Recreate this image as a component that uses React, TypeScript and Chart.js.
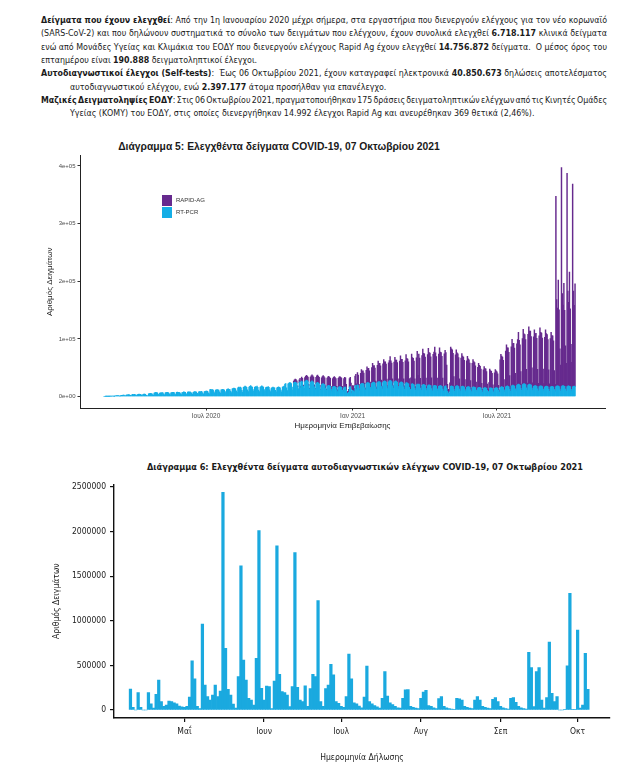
import React, { useEffect, useLayoutEffect, useRef } from "react";
import { Chart, registerables } from "chart.js";
Chart.register(...registerables);

// ================= Διάγραμμα 5 : daily tests (thousands) =================
// day 0 = Mon 2020-02-24, one row per week (Mon..Sun)
const pcrStartDate = "2020-02-24";
const pcrDailyK = [
  0, 0, 0.1, 0.2, 0.3, 0.2, 0.1,
  0.4, 0.5, 0.6, 0.8, 0.9, 0.6, 0.4,
  1.1, 1.3, 1.5, 1.8, 1.6, 1.2, 0.8,
  1.8, 2.1, 2, 2.4, 2.6, 1.7, 1.2,
  2.6, 3, 2.8, 3.3, 3.1, 2.1, 1.4,
  3.1, 3.6, 3.3, 3.9, 3.5, 2.4, 1.7,
  3.4, 3.8, 4.1, 3.9, 3.6, 2.6, 1.6,
  3.6, 4.2, 4.4, 3.7, 2.2, 1.6, 1.1,
  4.6, 5.1, 5.6, 5.3, 5, 3.4, 2.4,
  6.1, 6.8, 7.3, 6.9, 6.4, 4.1, 2.9,
  6.2, 6.6, 6.3, 6.9, 6.6, 4.4, 3,
  6.6, 7.1, 6.9, 7.3, 6.4, 4.6, 3.1,
  6.4, 7, 7.3, 7.1, 6.8, 4.5, 3.4,
  7.1, 7.6, 7.2, 7.5, 7, 5.1, 3.5,
  7, 7.4, 8.1, 7.8, 7.3, 5, 3.6,
  7.6, 8.2, 7.9, 8.3, 7.5, 5.4, 3.9,
  7.4, 8.1, 8.6, 8.2, 7.9, 5.6, 4.1,
  8.2, 8.6, 8.3, 8.9, 8.1, 5.9, 4.4,
  8.6, 9.1, 9.6, 9.4, 9, 6.4, 4.9,
  12.1, 12.6, 11.6, 12.2, 11.3, 8.1, 5.9,
  11.2, 11.7, 12.1, 11.6, 11, 8.2, 6.1,
  11.6, 12.2, 12.6, 12.1, 11.4, 8.4, 6.4,
  12.1, 12.8, 13.2, 12.6, 12.1, 8.9, 6.9,
  13.2, 14.1, 14.6, 14.2, 13.4, 9.8, 7.4,
  15.1, 16.2, 15.6, 16.6, 14.9, 10.9, 7.9,
  15.8, 16.9, 18.1, 17.2, 16.1, 11.8, 8.4,
  16.4, 17.6, 19.2, 17.1, 16.2, 12.1, 8.9,
  15.9, 17.1, 16.4, 18.2, 16.1, 11.4, 8.4,
  16.2, 17.3, 18.6, 17.1, 16.4, 11.9, 8.8,
  15.6, 16.4, 15.9, 17.2, 15.8, 11.6, 8.4,
  14.8, 15.6, 16.2, 15.4, 14.9, 10.9, 8.1,
  15.2, 16.1, 16.8, 15.9, 15.1, 11.2, 8.3,
  16.4, 17.2, 18.1, 21.6, 22.4, 15.2, 10.4,
  22.1, 23.4, 24.2, 23.8, 22.6, 16.4, 11.2,
  23.6, 24.8, 25.2, 24.4, 23.1, 17.1, 12.4,
  24.1, 25.6, 15.2, 26.8, 25.4, 17.8, 12.6,
  25.8, 27.2, 28.4, 27.6, 26.2, 18.4, 13.1,
  24.6, 26.1, 27.2, 25.8, 24.4, 16.9, 12.2,
  22.4, 23.8, 24.6, 23.2, 22.1, 15.6, 11.4,
  20.6, 21.8, 22.4, 21.2, 20.1, 14.2, 10.6,
  17.8, 19.1, 19.6, 18.4, 17.6, 12.4, 9.2,
  16.2, 17.4, 17.9, 16.8, 16.1, 11.6, 8.6,
  15.6, 16.8, 17.2, 16.4, 15.8, 11.2, 8.4,
  15.1, 16.2, 16.4, 11.2, 6.1, 5.2, 7.4,
  16.2, 17.1, 12.4, 5.6, 10.8, 9.6, 8.1,
  18.4, 19.6, 12.1, 20.4, 19.2, 14.1, 10.2,
  21.2, 22.6, 23.1, 22.4, 21.6, 15.4, 11.6,
  22.4, 23.6, 24.4, 23.8, 22.6, 16.1, 12.2,
  23.1, 24.4, 25.2, 24.6, 23.4, 16.8, 12.6,
  24.2, 25.6, 26.1, 25.4, 24.1, 17.4, 13.1,
  24.8, 26.2, 27.1, 26.4, 25.2, 18.1, 13.6,
  25.6, 27.4, 28.2, 27.1, 25.9, 18.6, 14.1,
  24.6, 26.2, 27.1, 26.2, 24.8, 17.9, 13.4,
  23.4, 24.8, 25.6, 24.6, 23.2, 16.8, 12.6,
  22.1, 23.6, 24.2, 23.1, 22.2, 16.1, 12.1,
  12.4, 21.6, 22.4, 21.2, 20.4, 14.8, 11.2,
  20.1, 21.4, 11.6, 21.8, 20.6, 14.6, 10.8,
  19.2, 20.4, 21.1, 20.2, 19.4, 14.1, 10.4,
  18.6, 19.8, 20.4, 19.6, 18.8, 13.6, 10.1,
  18.1, 19.2, 19.6, 18.8, 18.2, 13.2, 9.8,
  17.6, 18.6, 19.1, 18.4, 17.6, 12.8, 9.4,
  17.2, 18.1, 18.4, 14.6, 9.2, 6.4, 4.2,
  8.6, 17.8, 18.6, 17.9, 17.1, 12.6, 9.2,
  17.4, 18.2, 18.8, 18.1, 17.4, 12.8, 9.4,
  16.8, 17.6, 18.1, 17.4, 16.6, 12.2, 8.9,
  16.1, 16.9, 17.4, 16.8, 16.1, 11.8, 8.6,
  15.4, 16.2, 16.8, 16.1, 15.4, 11.2, 8.2,
  14.8, 15.6, 16.1, 15.4, 14.8, 10.8, 7.9,
  14.4, 15.1, 15.6, 15.1, 14.4, 10.6, 7.8,
  9.2, 14.6, 15.2, 14.6, 14.1, 10.4, 7.6,
  14.2, 14.8, 15.4, 14.9, 14.4, 10.6, 7.8,
  15.6, 16.4, 17.1, 16.6, 15.8, 11.6, 8.6,
  16.8, 17.8, 18.4, 17.6, 16.9, 12.4, 9.2,
  18.1, 19.2, 19.8, 19.1, 18.2, 13.4, 9.8,
  19.4, 20.6, 21.4, 20.6, 19.6, 14.4, 10.6,
  20.6, 21.8, 22.6, 21.6, 20.8, 15.2, 11.2,
  19.8, 20.9, 21.4, 20.6, 19.8, 14.6, 10.8,
  17.6, 18.6, 19.2, 18.6, 17.8, 13.2, 9.8,
  17.1, 18.1, 18.6, 18.1, 17.2, 12.8, 9.4,
  16.6, 17.6, 18.1, 17.6, 16.8, 12.4, 9.1,
  16.4, 17.4, 17.9, 17.4, 16.6, 12.2, 9,
  17.2, 18.1, 18.6, 18.1, 17.4, 12.8, 9.4,
  17.4, 18.4, 18.8, 18.2, 17.6, 12.9, 9.5,
  17.1, 18.1, 18.6, 17.9, 17.3, 12.7, 9.3,
  16.8, 17.8, 18.2, 17.6,
];

// Rapid-Ag starts on day 238 = Mon 2020-10-19
const rapidStartDay = 238;
const rapidDailyK = [
  3, 4, 5, 5, 4, 1.5, 1,
  5, 6, 3, 7, 6, 2, 1,
  7, 8, 8.5, 8, 7.5, 3, 1.5,
  9, 10, 10.5, 10, 9.5, 3.5, 2,
  11, 12, 12.5, 12, 11, 4, 2,
  12, 13, 14, 13.5, 12.5, 5, 2.5,
  14, 15, 15.5, 15, 14, 5.5, 3,
  15, 16, 16.5, 16, 15, 6, 3,
  16, 17, 17.5, 17, 16, 6.5, 3,
  16, 17, 16, 10, 3, 3, 5,
  15, 16, 11, 4, 8, 9, 6,
  17, 19, 10, 21, 18, 7, 3,
  19, 24, 21, 22, 19, 8, 3,
  23, 28, 24, 25, 22, 9, 4,
  27, 33, 28, 29, 26, 10, 4,
  30, 36, 31, 32, 29, 11, 5,
  32, 38, 33, 34, 31, 12, 5,
  33, 35, 41, 35, 32, 12, 5,
  35, 42, 36, 37, 34, 13, 5,
  38, 46, 39, 40, 36, 14, 6,
  40, 49, 42, 42, 38, 15, 6,
  20, 52, 45, 45, 41, 16, 6,
  47, 57, 25, 52, 46, 17, 7,
  52, 62, 54, 54, 49, 18, 7,
  54, 64, 56, 56, 50, 19, 8,
  55, 58, 66, 57, 51, 19, 8,
  56, 66, 58, 58, 52, 19, 8,
  57, 62, 58, 40, 12, 6, 2,
  15, 68, 64, 63, 58, 22, 9,
  55, 63, 57, 56, 50, 18, 7,
  50, 57, 52, 51, 46, 17, 7,
  46, 53, 48, 47, 42, 16, 6,
  42, 48, 44, 43, 38, 14, 6,
  36, 42, 38, 37, 33, 12, 5,
  32, 37, 33, 33, 29, 11, 5,
  15, 33, 30, 29, 26, 10, 4,
  27, 32, 29, 28, 25, 9, 4,
  48, 57, 53, 52, 47, 18, 7,
  62, 72, 66, 67, 60, 24, 9,
  68, 80, 72, 73, 66, 27, 10,
  72, 78, 90, 77, 70, 29, 11,
  80, 95, 86, 86, 78, 32, 12,
  88, 100, 92, 93, 84, 35, 13,
  86, 97, 90, 91, 83, 34, 13,
  88, 101, 93, 92, 84, 35, 13,
  86, 98, 91, 90, 82, 34, 13,
  84, 94, 88, 88, 80, 33, 12,
  330, 150, 135, 184, 133, 70, 45,
  380, 160, 140, 178, 132, 75, 48,
  370, 165, 145, 198, 135, 78, 50,
  352, 165, 140, 178,
];

const chart5TickDays = [128, 312, 493];
const chart5TickLabels = ["Ιουλ 2020", "Ιαν 2021", "Ιουλ 2021"];
const chart5YTicks = [0, 100000, 200000, 300000, 400000];
const chart5YTickLabels = ["0e+00", "1e+05", "2e+05", "3e+05", "4e+05"];
const chart5Series = ["RAPID-AG", "RT-PCR"];

// ================= Διάγραμμα 6 : self-tests (thousands) =================
// day 0 = 2021-04-10
const selfTestStartDate = "2021-04-10";
const selfTestsK = [
  235, 30, 0, 195, 30, 0, 0, 195, 70, 20,
  175, 336, 94, 40, 55, 100, 95, 80, 70, 45,
  35, 30, 40, 145, 550, 348, 40, 15, 964, 280,
  150, 112, 168, 280, 150, 213, 2440, 692, 232, 168,
  67, 20, 374, 1615, 560, 336, 130, 112, 56, 580,
  2010, 243, 112, 269, 262, 15, 325, 1840, 400, 205,
  195, 168, 37, 262, 1765, 255, 112, 94, 270, 40,
  240, 400, 374, 1225, 94, 40, 240, 280, 512, 393,
  94, 75, 40, 30, 150, 628, 348, 80, 70, 45,
  25, 145, 493, 94, 70, 50, 35, 20, 130, 430,
  157, 80, 60, 40, 25, 20, 130, 225, 230, 40,
  30, 20, 15, 130, 200, 220, 50, 40, 25, 15,
  127, 150, 40, 25, 15, 10, 5, 130, 125, 112,
  40, 30, 20, 15, 112, 150, 112, 40, 30, 20,
  15, 120, 140, 95, 40, 25, 15, 10, 130, 140,
  85, 40, 25, 15, 10, 646, 475, 37, 430, 475,
  112, 20, 138, 760, 187, 94, 150, 0, 0, 5,
  495, 1308, 7, 7, 897, 20, 56, 635, 232,
];
const chart6TickDays = [21, 52, 82, 113, 144, 174];
const chart6TickLabels = ["Μαΐ", "Ιουν", "Ιουλ", "Αυγ", "Σεπ", "Οκτ"];
const chart6YTicks = [0, 500000, 1000000, 1500000, 2000000, 2500000];
const chart6YTickLabels = ["0", "500000", "1000000", "1500000", "2000000", "2500000"];

// ================= styles =================
const PURPLE = "#662a8e";
const BLUE1 = "#14aee6";
const BLUE2 = "#1aa9df";
const F1 = "'Liberation Sans', Arial, Helvetica, sans-serif";
const F2 = "'DejaVu Sans Condensed', 'DejaVu Sans', sans-serif";

function Chart5() {
  const ref = useRef<HTMLCanvasElement>(null);
  useEffect(() => {
    const pcr = pcrDailyK.map((v, i) => ({ x: i, y: v * 1000 }));
    const rapid = rapidDailyK.map((v, i) => ({ x: rapidStartDay + i, y: v * 1000 }));
    const chart = new Chart(ref.current as HTMLCanvasElement, {
      type: "bar",
      data: {
        datasets: [
          { label: chart5Series[1], data: pcr as any, backgroundColor: BLUE1, borderWidth: 0, barPercentage: 1, categoryPercentage: 1 },
          { label: chart5Series[0], data: rapid as any, backgroundColor: PURPLE, borderWidth: 0, barPercentage: 1, categoryPercentage: 1 },
        ],
      },
      options: {
        animation: false,
        responsive: false,
        maintainAspectRatio: false,
        layout: { padding: { top: 25.6, right: 39, bottom: 0, left: 0 } },
        plugins: { legend: { display: false }, tooltip: { enabled: false } },
        scales: {
          x: {
            type: "linear",
            min: -30.1,
            max: 628.6,
            stacked: true,
            offset: false,
            grid: { display: true, drawOnChartArea: false, drawTicks: true, tickLength: 2.5, color: "#333", offset: false },
            border: { display: true, color: "#222", width: 1 },
            afterBuildTicks: (s: any) => { s.ticks = chart5TickDays.map((v) => ({ value: v })); },
            afterFit: (s: any) => { s.height = 32; },
            ticks: {
              autoSkip: false, maxRotation: 0, padding: 1.5, color: "#4d4d4d",
              font: { family: F1, size: 6.5 },
              callback: (_v: any, i: number) => chart5TickLabels[i],
            },
            title: { display: true, text: "Ημερομηνία Επιβεβαίωσης", color: "#222", font: { family: F1, size: 8 }, padding: { top: 0, bottom: 9.2 } },
          },
          y: {
            type: "linear",
            min: -19900,
            max: 418000,
            stacked: true,
            grid: { display: true, drawOnChartArea: false, drawTicks: true, tickLength: 2.5, color: "#333" },
            border: { display: true, color: "#222", width: 1 },
            afterBuildTicks: (s: any) => { s.ticks = chart5YTicks.map((v) => ({ value: v })); },
            afterFit: (s: any) => { s.width = 80; },
            ticks: {
              autoSkip: false, padding: 2, color: "#4d4d4d",
              font: { family: F1, size: 6 },
              callback: (_v: any, i: number) => chart5YTickLabels[i],
            },
            title: { display: true, text: "Αριθμός Δειγμάτων", color: "#222", font: { family: F1, size: 8 }, padding: { top: 45, bottom: 0 } },
          },
        },
      },
    });
    return () => chart.destroy();
  }, []);
  return <canvas ref={ref} width={644} height={310} style={{ position: "absolute", left: 0, top: 130, width: 644, height: 310 }} />;
}

function Chart6() {
  const ref = useRef<HTMLCanvasElement>(null);
  useEffect(() => {
    const pts = selfTestsK.map((v, i) => ({ x: i, y: v * 1000 }));
    const chart = new Chart(ref.current as HTMLCanvasElement, {
      type: "bar",
      data: {
        datasets: [
          { label: "Self-tests", data: pts as any, backgroundColor: BLUE2, borderWidth: 0, barPercentage: 1, categoryPercentage: 1 },
        ],
      },
      options: {
        animation: false,
        responsive: false,
        maintainAspectRatio: false,
        layout: { padding: { top: 29.3, right: 34, bottom: 0, left: 0 } },
        plugins: { legend: { display: false }, tooltip: { enabled: false } },
        scales: {
          x: {
            type: "linear",
            min: -6.4,
            max: 186.6,
            offset: false,
            grid: { display: true, drawOnChartArea: false, drawTicks: true, tickLength: 4, color: "#111", offset: false, lineWidth: 1.2 },
            border: { display: true, color: "#111", width: 1.4 },
            afterBuildTicks: (s: any) => { s.ticks = chart6TickDays.map((v) => ({ value: v })); },
            afterFit: (s: any) => { s.height = 60; },
            ticks: {
              autoSkip: false, maxRotation: 0, padding: 5, color: "#222",
              font: { family: F2, size: 8.5 },
              callback: (_v: any, i: number) => chart6TickLabels[i],
            },
            title: { display: true, text: "Ημερομηνία Δήλωσης", color: "#222", font: { family: F2, size: 8.5 }, padding: { top: 0, bottom: 15.6 } },
          },
          y: {
            type: "linear",
            min: -90000,
            max: 2530000,
            grid: { display: true, drawOnChartArea: false, drawTicks: true, tickLength: 4, color: "#111", lineWidth: 1.2 },
            border: { display: true, color: "#111", width: 1.4 },
            afterBuildTicks: (s: any) => { s.ticks = chart6YTicks.map((v) => ({ value: v })); },
            afterFit: (s: any) => { s.width = 114; },
            ticks: {
              autoSkip: false, padding: 4, color: "#222",
              font: { family: F2, size: 8.5 },
              callback: (_v: any, i: number) => chart6YTickLabels[i],
            },
            title: { display: true, text: "Αριθμός Δειγμάτων", color: "#222", font: { family: F2, size: 8.5 }, padding: { top: 51.6, bottom: 0 } },
          },
        },
      },
    });
    return () => chart.destroy();
  }, []);
  return <canvas ref={ref} width={644} height={323} style={{ position: "absolute", left: 0, top: 455, width: 644, height: 323 }} />;
}

// A single text line; if "justify" it is stretched to the given width via word-spacing.
function Line({ top, left, width, justify, children }: { top: number; left: number; width?: number; justify?: boolean; children: React.ReactNode }) {
  const ref = useRef<HTMLDivElement>(null);
  useLayoutEffect(() => {
    const el = ref.current;
    if (!el || !justify || !width) return;
    const fit = () => {
      el.style.wordSpacing = "0px";
      el.style.transform = "none";
      const w = el.getBoundingClientRect().width;
      const n = ((el.textContent || "").match(/[ \u00a0]/g) || []).length;
      let ws = n > 0 ? (width - w) / n : 0;
      if (ws < -1.2) {
        el.style.wordSpacing = "-1.2px";
        const w2 = el.getBoundingClientRect().width;
        el.style.transformOrigin = "0 0";
        el.style.transform = `scaleX(${width / w2})`;
      } else {
        el.style.wordSpacing = ws + "px";
      }
    };
    fit();
    (document as any).fonts?.ready?.then(fit);
  }, []);
  return (
    <div ref={ref} style={{ position: "absolute", left, top, whiteSpace: "nowrap", fontFamily: F2, fontSize: 8.8, lineHeight: "12px", color: "#1a1a1a" }}>
      {children}
    </div>
  );
}

// Title whose font size is adjusted so it spans the given width, centered at cx.
function FitTitle({ cx, cy, width, size, family, text }: { cx: number; cy: number; width: number; size: number; family: string; text: string }) {
  const ref = useRef<HTMLDivElement>(null);
  useLayoutEffect(() => {
    const el = ref.current;
    if (!el) return;
    const fit = () => {
      el.style.fontSize = size + "px";
      const w = el.getBoundingClientRect().width;
      if (w > 0) el.style.fontSize = (size * width) / w + "px";
    };
    fit();
    (document as any).fonts?.ready?.then(fit);
  }, []);
  return (
    <div ref={ref} style={{ position: "absolute", left: cx, top: cy - 6, transform: "translateX(-50%)", whiteSpace: "nowrap", fontFamily: family, fontWeight: "bold", fontSize: size, lineHeight: "12px", color: "#1a1a1a" }}>
      {text}
    </div>
  );
}

function Para() {
  const tops = [14, 27.3, 40.6, 54, 67.3, 80.6, 94, 107.3];
  return (
    <>
      <Line top={tops[0]} left={41} width={566} justify><b>Δείγματα που έχουν ελεγχθεί</b>: Από την 1η Ιανουαρίου 2020 μέχρι σήμερα, στα εργαστήρια που διενεργούν ελέγχους για τον νέο κορωναϊό</Line>
      <Line top={tops[1]} left={41} width={566} justify>(SARS-CoV-2) και που δηλώνουν συστηματικά το σύνολο των δειγμάτων που ελέγχουν, έχουν συνολικά ελεγχθεί <b>6.718.117</b> κλινικά δείγματα</Line>
      <Line top={tops[2]} left={41} width={566} justify>ενώ από Μονάδες Υγείας και Κλιμάκια του ΕΟΔΥ που διενεργούν ελέγχους Rapid Ag έχουν ελεγχθεί <b>14.756.872</b> δείγματα.{"\u00a0 "}Ο μέσος όρος του</Line>
      <Line top={tops[3]} left={41}>επταημέρου είναι <b>190.888</b> δειγματοληπτικοί έλεγχοι.</Line>
      <Line top={tops[4]} left={41} width={566} justify><b>Αυτοδιαγνωστικοί έλεγχοι (Self-tests)</b>:{"\u00a0 "}Έως 06 Οκτωβρίου 2021, έχουν καταγραφεί ηλεκτρονικά <b>40.850.673</b> δηλώσεις αποτελέσματος</Line>
      <Line top={tops[5]} left={70}>αυτοδιαγνωστικού ελέγχου, ενώ <b>2.397.177</b> άτομα προσήλθαν για επανέλεγχο.</Line>
      <Line top={tops[6]} left={41} width={566} justify><b>Μαζικές Δειγματοληψίες ΕΟΔΥ</b>: Στις 06 Οκτωβρίου 2021, πραγματοποιήθηκαν 175 δράσεις δειγματοληπτικών ελέγχων από τις Κινητές Ομάδες</Line>
      <Line top={tops[7]} left={70}>Υγείας (ΚΟΜΥ) του ΕΟΔΥ, στις οποίες διενεργήθηκαν 14.992 έλεγχοι Rapid Ag και ανευρέθηκαν 369 θετικά (2,46%).</Line>
    </>
  );
}

export default function App() {
  return (
    <div style={{ position: "absolute", left: 0, top: 0, width: 644, height: 778, overflow: "hidden", background: "#fff" }}>
      <Para />
      <FitTitle cx={279} cy={147} width={322} size={10} family={F1} text="Διάγραμμα 5: Ελεγχθέντα δείγματα COVID-19, 07 Οκτωβρίου 2021" />
      <Chart5 />
      <div style={{ position: "absolute", left: 162, top: 195, width: 10, height: 11, background: PURPLE }} />
      <div style={{ position: "absolute", left: 162, top: 207, width: 10, height: 11, background: BLUE1 }} />
      <div style={{ position: "absolute", left: 176, top: 196, fontFamily: F1, fontSize: 6, lineHeight: "9px", color: "#333", whiteSpace: "nowrap" }}>{chart5Series[0]}</div>
      <div style={{ position: "absolute", left: 176, top: 208, fontFamily: F1, fontSize: 6, lineHeight: "9px", color: "#333", whiteSpace: "nowrap" }}>{chart5Series[1]}</div>
      <FitTitle cx={365} cy={467} width={436} size={10} family={F2} text="Διάγραμμα 6: Ελεγχθέντα δείγματα αυτοδιαγνωστικών ελέγχων COVID-19, 07 Οκτωβρίου 2021" />
      <Chart6 />
    </div>
  );
}
